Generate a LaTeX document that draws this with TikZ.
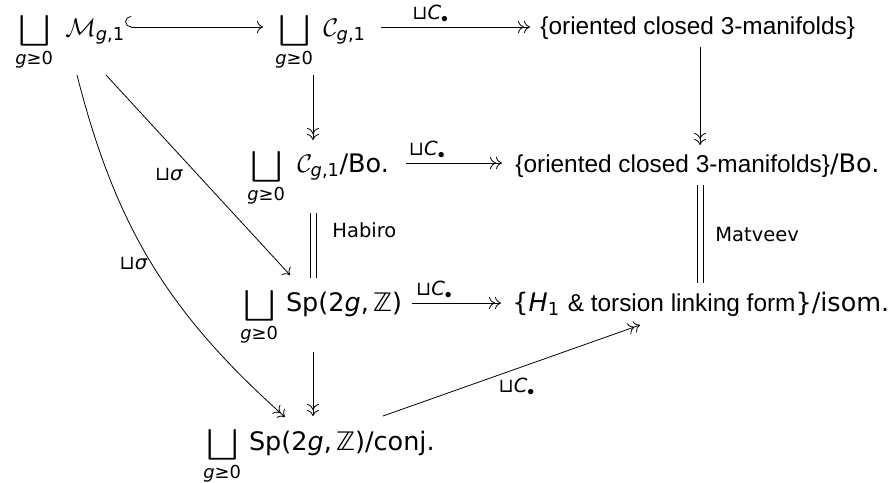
\RequirePackage{fix-cm}
\documentclass[tikz,border=0pt]{standalone}
\usepackage{amsmath}
\usepackage{graphicx}
\usepackage{fontspec}
\setmainfont{DejaVu Sans}
\newfontfamily\brfont{Liberation Sans}
\usetikzlibrary{arrows.meta,calc}

% sans italic letters and the big disjoint union with its index
\newcommand\gi{\text{\itshape g}}
\newcommand\bigU{\mathop{\vcenter{\hbox{\raisebox{-1.5pt}[\height][\depth]{%
  \scalebox{1.1}[0.88]{$\displaystyle\bigsqcup$}}}}}}
\newcommand\dunion{\displaystyle\bigU\limits_{\gi\text{≥0}}}
\newcommand\cbul{⊔{\itshape C}$_\bullet$}
\newcommand\brtext{\brfont\fontsize{24.4}{29}\selectfont}
\newcommand\spz{Sp(2{\itshape g},\,ℤ)}

\tikzset{
  obj/.style={inner sep=0pt, anchor=base west},
  lab/.style={font=\fontsize{19.5}{22}\selectfont, inner sep=1pt},
  cmto/.style={-{Computer Modern Rightarrow[length=6pt,width=12pt]}},
  onto/.style={-{Computer Modern Rightarrow[length=6pt,width=12pt,sep=0pt]Computer Modern Rightarrow[length=6pt,width=12pt]}},
  incl/.style={{Hooks[right,length=6pt,width=22pt]}-{Computer Modern Rightarrow[length=6pt,width=12pt]}},
  eqline/.style={transform canvas={xshift=-3pt}},
  eqlineb/.style={transform canvas={xshift=3pt}},
}

\begin{document}
\begin{tikzpicture}[x=1pt, y=-1pt, line width=0.8pt,
    font=\fontsize{25.5}{30}\selectfont]
  \useasboundingbox (0,0) rectangle (890,482);

  % objects
  \node[obj] (A) at (15,36)  {$\dunion\hspace{8pt}\mathcal{M}_{\gi\text{,1}}$};
  \node[obj] (B) at (275,36) {$\dunion\hspace{6pt}\mathcal{C}_{\gi\text{,1}}$};
  \node[obj] (C) at (540,34) {\brtext \{oriented closed 3-manifolds\}};
  \node[obj] (D) at (247,172) {$\dunion\hspace{8pt}\mathcal{C}_{\gi\text{,1}}$/Bo.};
  \node[obj] (E) at (515,172) {{\brtext \{oriented closed 3-manifolds\}}/Bo.};
  \node[obj] (F) at (240,311) {$\dunion\hspace{8pt}$\spz};
  \node[obj] (G) at (512,311) {\{{\itshape H}$_{\text{1}}$ {\brtext \& torsion linking form}\}/isom.};
  \node[obj] (H) at (203,450) {$\dunion\hspace{8pt}$\spz/conj.};

  % rows and columns that the straight arrows follow
  \coordinate (row1) at (0,27);
  \coordinate (row2) at (0,163);
  \coordinate (row3) at (0,303);
  \coordinate (colL) at (313,0);
  \coordinate (colR) at (700,0);

  % horizontal arrows
  \draw[incl, shorten <=0pt, shorten >=12pt] (A.east |- row1) -- (B.west |- row1);
  \draw[onto, shorten <=15pt, shorten >=10pt] (B.east |- row1) -- (C.west |- row1)
    node[lab, pos=0.37, above=3pt] {\cbul};
  \draw[onto, shorten <=17pt, shorten >=13pt] (D.east |- row2) -- (E.west |- row2)
    node[lab, pos=0.3, above=3pt] {\cbul};
  \draw[onto, shorten <=10pt, shorten >=11pt] (F.east |- row3) -- (G.west |- row3)
    node[lab, pos=0.29, above=3pt] {\cbul};

  % vertical arrows, measured from the baselines of the rows
  \draw[onto, shorten <=39pt, shorten >=32pt] (B.base -| colL) -- (D.base -| colL);
  \draw[eqline, shorten <=41pt, shorten >=33pt] (D.base -| colL) -- (F.base -| colL);
  \draw[eqlineb, shorten <=41pt, shorten >=33pt] (D.base -| colL) -- (F.base -| colL);
  \path (D.base -| colL) -- (F.base -| colL)
    node[lab, pos=0.42, right=18pt] {Habiro};
  \draw[onto, shorten <=41pt, shorten >=34pt] (F.base -| colL) -- (H.base -| colL);
  \draw[onto, shorten <=13pt, shorten >=27pt] (C.base -| colR) -- (E.base -| colR);
  \draw[eqline, shorten <=13pt, shorten >=28pt] (E.base -| colR) -- (G.base -| colR);
  \draw[eqlineb, shorten <=13pt, shorten >=28pt] (E.base -| colR) -- (G.base -| colR);
  \path (E.base -| colR) -- (G.base -| colR)
    node[lab, pos=0.45, right=14pt] {Matveev};

  % diagonal arrows
  \draw[cmto] ($(A.base west)+(91,39)$) -- ($(F.base west)+(50,-36)$)
    node[lab, pos=0.5, left=14pt] {⊔{\itshape σ}};
  \draw[onto] ($(A.base west)+(62,39)$) to[bend right=17]
    node[lab, pos=0.5, left=3pt] {⊔{\itshape σ}} ($(H.base west)+(82,-33)$);
  \draw[onto] ($(H.base west)+(180,-34)$) -- ($(G.base west)+(128,14)$)
    node[lab, pos=0.52, below=8pt] {\cbul};
\end{tikzpicture}
\end{document}
